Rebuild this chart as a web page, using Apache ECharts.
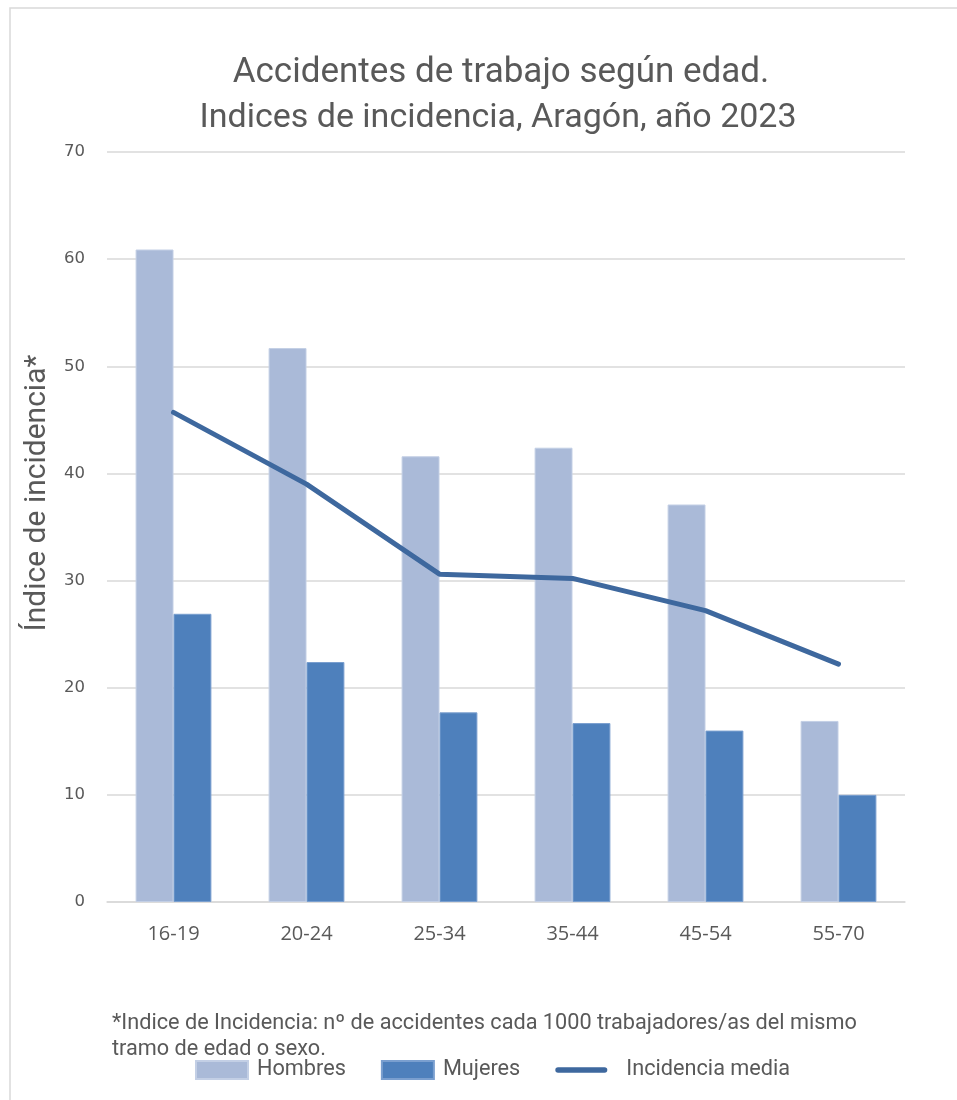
<!DOCTYPE html>
<html><head><meta charset="utf-8">
<script src="https://cdn.jsdelivr.net/npm/echarts@6/dist/echarts.min.js"></script>
<style>html,body{margin:0;padding:0;background:#fff}#c{width:957px;height:1100px}</style>
</head><body><div id="c"></div>
<script>
const categories = ['16-19','20-24','25-34','35-44','45-54','55-70'];
const hombres = [60.9, 51.7, 41.6, 42.4, 37.1, 16.9];
const mujeres = [26.9, 22.4, 17.7, 16.7, 16.0, 10.0];
const incidenciaMedia = [45.7, 39.0, 30.6, 30.2, 27.2, 22.2];
const yTicks = [0, 10, 20, 30, 40, 50, 60, 70];

const chart = echarts.init(document.getElementById('c'), null, {renderer:'canvas'});
const F = 'Roboto';
chart.setOption({
  animation:false,
  backgroundColor:'#fff',
  grid:{left:107, right:52, top:152, bottom:198, containLabel:false},
  xAxis:{
    type:'category', data:categories,
    axisLine:{lineStyle:{color:'#d9d9d9', width:1.5}},
    axisTick:{show:false},
    axisLabel:{fontFamily:'Open Sans', fontSize:20, color:'#595959', margin:22}
  },
  yAxis:{
    type:'value', min:yTicks[0], max:yTicks[yTicks.length-1], interval:10,
    axisLine:{show:false}, axisTick:{show:false},
    axisLabel:{fontFamily:'DejaVu Sans', fontSize:16.5, color:'#595959', margin:22},
    splitLine:{lineStyle:{color:'#d9d9d9', width:1.5}}
  },
  legend:{
    left:195, top:1059, padding:0, itemWidth:52, itemHeight:18, itemGap:35,
    textStyle:{fontFamily:F, fontSize:21.7, color:'#595959', padding:[0,0,0,4]},
    data:[
      {name:'Hombres', icon:'rect'},
      {name:'Mujeres', icon:'rect'},
      {name:'Incidencia media', icon:'path://M3,0 L53,0 A3,3 0 0 1 53,6 L3,6 A3,3 0 0 1 3,0 Z',
       textStyle:{padding:[0,0,0,14]}}
    ]
  },
  series:[
    {name:'Hombres', type:'bar', data:hombres, barGap:'0%', barCategoryGap:'43%',
     itemStyle:{color:'#aabad8', borderColor:'#c3cfe5', borderWidth:1}},
    {name:'Mujeres', type:'bar', data:mujeres,
     itemStyle:{color:'#4e80bc', borderColor:'#7a9fcf', borderWidth:1}},
    {name:'Incidencia media', type:'line', data:incidenciaMedia, symbol:'none',
     lineStyle:{color:'#3e689e', width:5, cap:'round', join:'round'}, itemStyle:{color:'#3e689e'}}
  ],
  graphic:[
    {type:'rect', shape:{x:10, y:8, width:960, height:1100}, style:{fill:'none', stroke:'#d9d9d9', lineWidth:1.5}, silent:true},
    {type:'text', x:501, y:73, style:{text:'Accidentes de trabajo según edad.', textAlign:'center', textVerticalAlign:'middle', fontFamily:F, fontSize:35, fill:'#595959'}},
    {type:'text', x:498, y:118, style:{text:'Indices de incidencia, Aragón, año 2023', textAlign:'center', textVerticalAlign:'middle', fontFamily:F, fontSize:34, fill:'#595959'}},
    {type:'text', x:37, y:493, rotation:Math.PI/2, style:{text:'Índice de incidencia*', textAlign:'center', textVerticalAlign:'middle', fontFamily:F, fontSize:30, fill:'#595959'}},
    {type:'text', x:112, y:1024, style:{text:'*Indice de Incidencia: nº de accidentes cada 1000 trabajadores/as del mismo', textVerticalAlign:'middle', fontFamily:F, fontSize:21.7, fill:'#595959'}},
    {type:'text', x:112, y:1050, style:{text:'tramo de edad o sexo.', textVerticalAlign:'middle', fontFamily:F, fontSize:21.7, fill:'#595959'}}
  ]
});
</script></body></html>
